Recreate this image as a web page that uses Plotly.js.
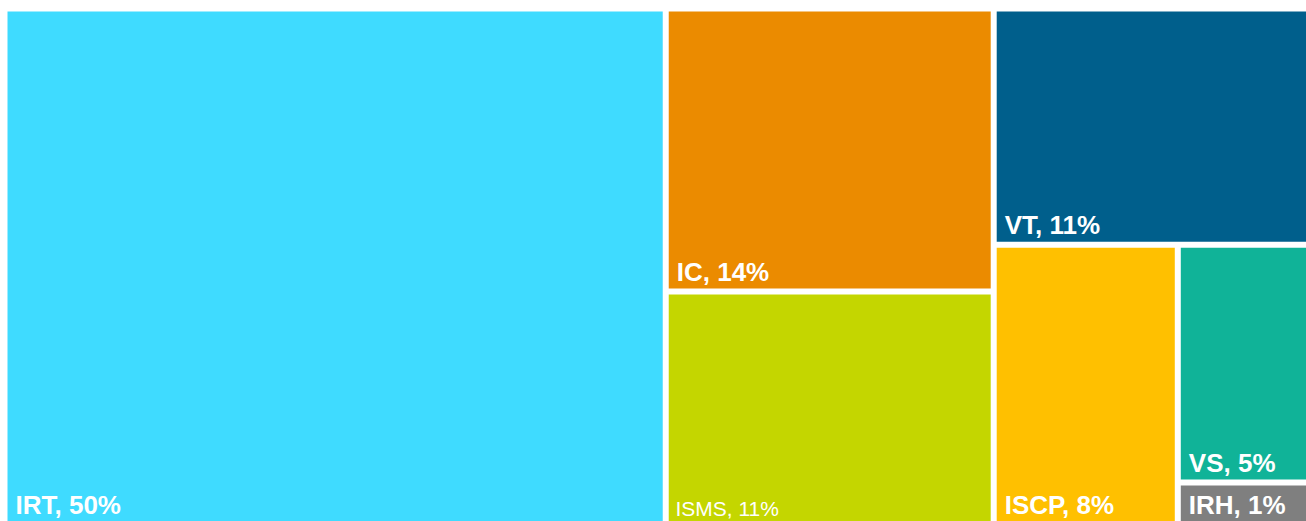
<!DOCTYPE html>
<html>
<head>
<meta charset="utf-8">
<script src="https://cdn.plot.ly/plotly-3.0.1.min.js"></script>
<style>
  html, body { margin: 0; padding: 0; background: #ffffff; overflow: hidden; }
  #chart { width: 1326px; height: 523px; }
</style>
</head>
<body>
<div id="chart"></div>
<script>
// categories and their share (tile areas)
var labels = ["IRT", "IC", "ISMS", "VT", "ISCP", "VS", "IRH"];
var shares = [50, 13.6, 11.2, 11.55, 7.55, 5.22, 0.92];
// percent labels printed on the tiles
var pctLabels = ["50%", "14%", "11%", "11%", "8%", "5%", "1%"];
var colors = ["#3fdbff", "#eb8b00", "#c4d600", "#005f8c", "#ffc000", "#10b398", "#7f7f7f"];
var weights = ["bold", "bold", "normal", "bold", "bold", "bold", "bold"];
var sizes = [26, 26, 21, 26, 26, 26, 26];

var trace = {
  type: "treemap",
  labels: labels,
  parents: labels.map(() => ""),
  values: shares,
  text: pctLabels,
  texttemplate: "\u2005%{label}, %{text}",
  textposition: "bottom left",
  textfont: { family: "Liberation Sans, Arial, sans-serif", size: sizes, color: "#ffffff", weight: weights },
  marker: { colors: colors, line: { color: "#ffffff", width: 3 }, pad: { t: 0, l: 0, r: 0, b: 0 } },
  sort: false,
  pathbar: { visible: false },
  hoverinfo: "skip"
};

var layout = {
  width: 1326,
  height: 523,
  margin: { l: 6, r: 0, t: 10, b: 0 },
  paper_bgcolor: "#ffffff",
  showlegend: false
};

Plotly.newPlot("chart", [trace], layout, { displayModeBar: false, staticPlot: true });
</script>
</body>
</html>
